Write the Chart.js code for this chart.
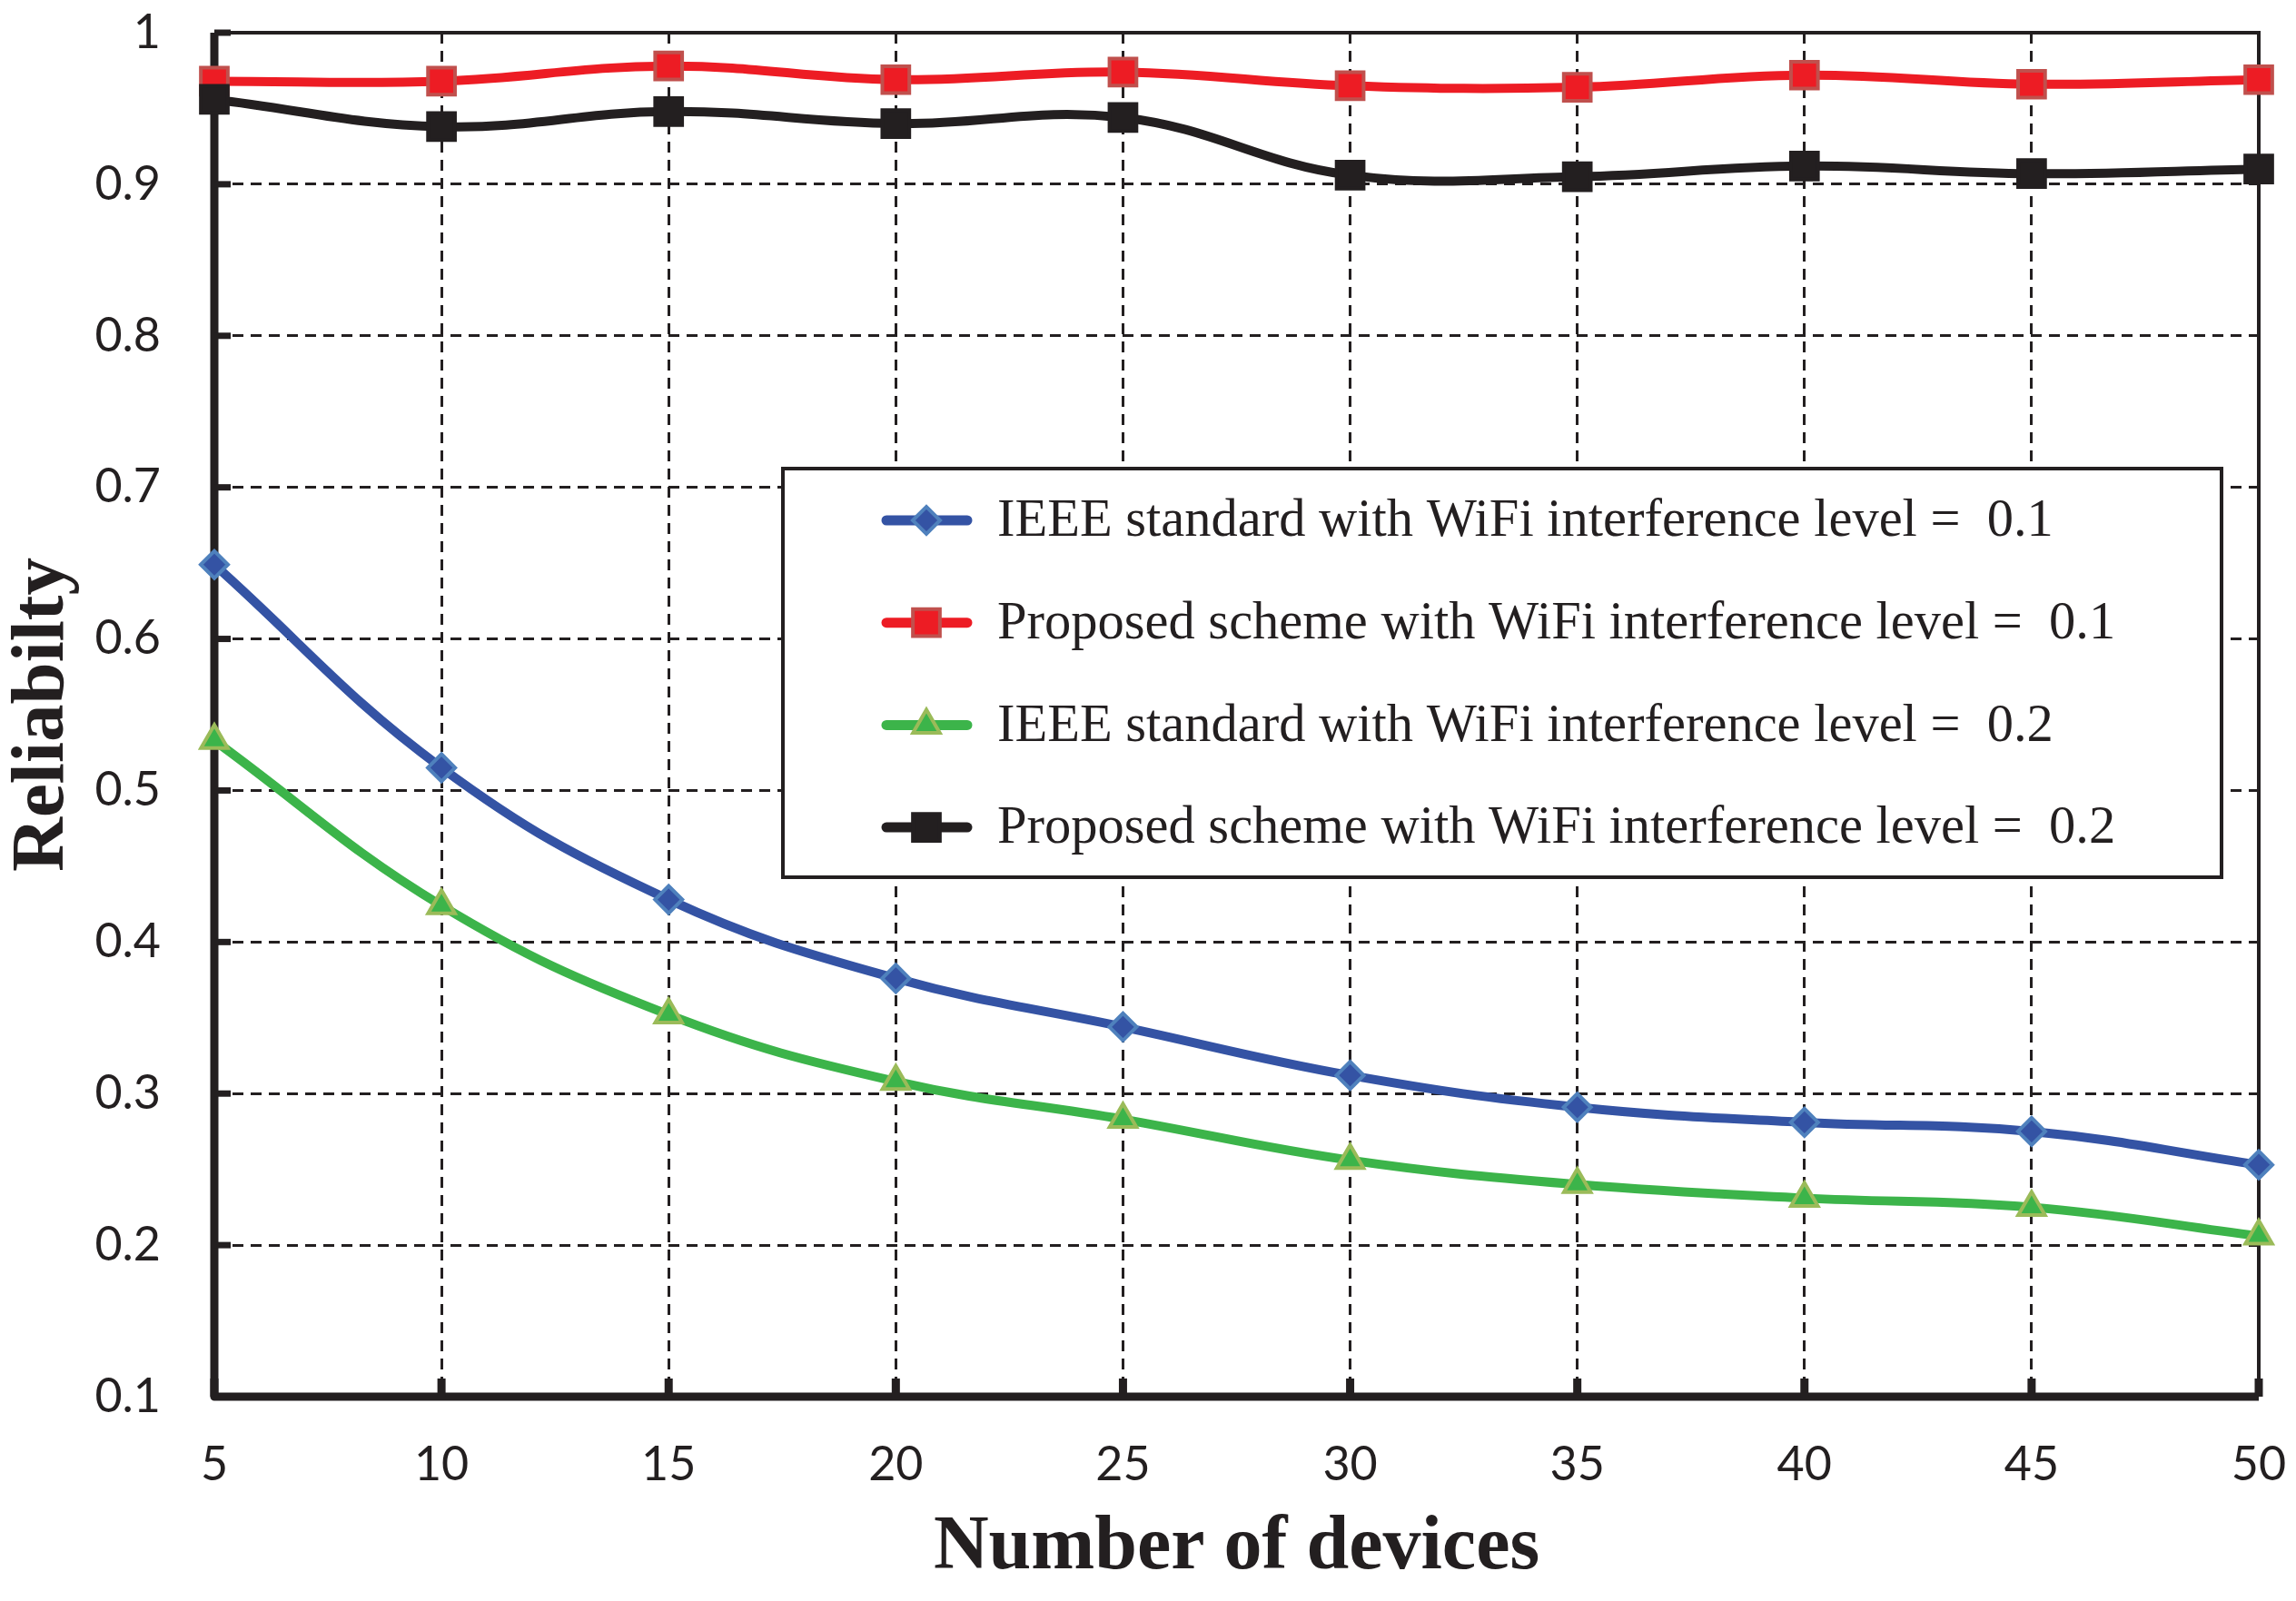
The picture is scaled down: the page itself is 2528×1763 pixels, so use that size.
<!DOCTYPE html>
<html>
<head>
<meta charset="utf-8">
<script src="https://cdn.jsdelivr.net/npm/chart.js@4.4.1/dist/chart.umd.min.js"></script>
<style>
  html, body { margin: 0; padding: 0; background: #fff; }
  #chartBox { width: 2528px; height: 1763px; position: relative; }
</style>
</head>
<body>
<div id="chartBox"><canvas id="myChart"></canvas></div>
<script>
// data
const devices = ["5", "10", "15", "20", "25", "30", "35", "40", "45", "50"];
const yTickLabels = ["0.1", "0.2", "0.3", "0.4", "0.5", "0.6", "0.7", "0.8", "0.9", "1"];

const ieeeLevel1 = [0.649, 0.515, 0.428, 0.376, 0.344, 0.312, 0.291, 0.281, 0.275, 0.253];
const proposedLevel1 = [0.968, 0.968, 0.978, 0.969, 0.974, 0.965, 0.964, 0.972, 0.966, 0.969];
const ieeeLevel2 = [0.533, 0.424, 0.352, 0.308, 0.283, 0.256, 0.240, 0.231, 0.225, 0.206];
const proposedLevel2 = [0.956, 0.938, 0.948, 0.940, 0.944, 0.906, 0.905, 0.912, 0.907, 0.910];

const seriesNames = [
  "IEEE standard with WiFi interference level =  0.1",
  "Proposed scheme with WiFi interference level =  0.1",
  "IEEE standard with WiFi interference level =  0.2",
  "Proposed scheme with WiFi interference level =  0.2",
];

const ink = "#231f20";

function series(label, values, line, fill, edge, style, radius, order) {
  return {
    label,
    data: values,
    borderColor: line,
    backgroundColor: line,
    borderWidth: 10,
    tension: 0.4,
    pointStyle: style,
    pointRadius: radius,
    pointHoverRadius: radius,
    pointBackgroundColor: fill,
    pointBorderColor: edge,
    pointBorderWidth: 4,
    clip: false,
    order,
  };
}

const data = {
  labels: devices,
  datasets: [
    series(seriesNames[0], ieeeLevel1, "#3453a4", "#3453a4", "#4f81bd", "rectRot", 15, 1),
    series(seriesNames[1], proposedLevel1, "#ed1c24", "#ed1c24", "#c0504d", "rect", 21, 3),
    series(seriesNames[2], ieeeLevel2, "#3cb44a", "#3cb44a", "#9bbb59", "triangle", 17, 2),
    series(seriesNames[3], proposedLevel2, ink, ink, ink, "rect", 21, 0),
  ],
};

// thick left/bottom axes, thin top/right frame, short inward ticks
const framePlugin = {
  id: "frame",
  beforeDatasetsDraw(chart) {
    const { ctx, chartArea, scales } = chart;
    const { left, right, top, bottom } = chartArea;
    ctx.save();
    ctx.strokeStyle = ink;
    ctx.setLineDash([]);

    ctx.lineWidth = 4;
    ctx.beginPath();
    ctx.moveTo(left, top);
    ctx.lineTo(right, top);
    ctx.lineTo(right, bottom);
    ctx.stroke();

    ctx.lineWidth = 9;
    ctx.lineJoin = "round";
    ctx.beginPath();
    ctx.moveTo(left, top);
    ctx.lineTo(left, bottom);
    ctx.lineTo(right, bottom);
    ctx.stroke();

    ctx.lineWidth = 7;
    scales.y.ticks.forEach((t, i) => {
      const py = scales.y.getPixelForTick(i);
      ctx.beginPath();
      ctx.moveTo(left, py);
      ctx.lineTo(left + 18, py);
      ctx.stroke();
    });
    ctx.lineWidth = 9;
    scales.x.ticks.forEach((t, i) => {
      const px = scales.x.getPixelForTick(i);
      ctx.beginPath();
      ctx.moveTo(px, bottom);
      ctx.lineTo(px, bottom - 20);
      ctx.stroke();
    });
    ctx.restore();
  },
};

function drawMarker(ctx, style, cx, cy, r, fill, edge, bw) {
  ctx.beginPath();
  if (style === "rectRot") {
    ctx.moveTo(cx - r, cy);
    ctx.lineTo(cx, cy - r);
    ctx.lineTo(cx + r, cy);
    ctx.lineTo(cx, cy + r);
  } else if (style === "triangle") {
    let rad = 0;
    ctx.moveTo(cx + Math.sin(rad) * r, cy - Math.cos(rad) * r);
    rad += (2 * Math.PI) / 3;
    ctx.lineTo(cx + Math.sin(rad) * r, cy - Math.cos(rad) * r);
    rad += (2 * Math.PI) / 3;
    ctx.lineTo(cx + Math.sin(rad) * r, cy - Math.cos(rad) * r);
  } else {
    const s = r * Math.SQRT1_2;
    ctx.rect(cx - s, cy - s, 2 * s, 2 * s);
  }
  ctx.closePath();
  ctx.fillStyle = fill;
  ctx.fill();
  ctx.lineWidth = bw;
  ctx.strokeStyle = edge;
  ctx.stroke();
}

// boxed legend inside the plot
const legendBox = {
  id: "legendBox",
  afterDraw(chart) {
    const ctx = chart.ctx;
    const box = { x: 862, y: 516, w: 1584, h: 450 };
    ctx.save();
    ctx.fillStyle = "#fff";
    ctx.fillRect(box.x, box.y, box.w, box.h);
    ctx.lineWidth = 4;
    ctx.strokeStyle = ink;
    ctx.strokeRect(box.x, box.y, box.w, box.h);

    ctx.font = "58.5px 'Liberation Serif', 'Times New Roman', serif";
    ctx.textBaseline = "middle";
    chart.data.datasets.forEach((ds, i) => {
      const rowY = 573 + i * 112.7;
      ctx.lineCap = "round";
      ctx.lineWidth = 11;
      ctx.strokeStyle = ds.borderColor;
      ctx.beginPath();
      ctx.moveTo(976, rowY);
      ctx.lineTo(1065, rowY);
      ctx.stroke();
      ctx.lineCap = "butt";
      drawMarker(ctx, ds.pointStyle, 1020, rowY, ds.pointRadius,
        ds.pointBackgroundColor, ds.pointBorderColor, ds.pointBorderWidth);
      ctx.fillStyle = ink;
      ctx.fillText(ds.label, 1098, rowY + 2);
    });
    ctx.restore();
  },
};

const config = {
  type: "line",
  data,
  options: {
    responsive: true,
    maintainAspectRatio: false,
    devicePixelRatio: 1,
    animation: false,
    events: [],
    layout: {
      padding: { left: 0, top: 36, right: 41, bottom: 0 },
    },
    plugins: {
      legend: { display: false },
      tooltip: { enabled: false },
    },
    scales: {
      x: {
        type: "category",
        offset: false,
        afterFit(scale) {
          // fixed band under the plot; labels may overhang the ends
          scale.height = 225;
          scale.paddingLeft = 0;
          scale.paddingRight = 0;
        },
        grid: {
          color: ink,
          lineWidth: 3,
          drawTicks: false,
          borderDash: [12, 8],
        },
        border: { display: false, dash: [12, 8] },
        ticks: {
          color: ink,
          padding: 44,
          maxRotation: 0,
          autoSkip: false,
          font: { family: "Lato, 'Open Sans', sans-serif", size: 52 },
        },
        title: {
          display: true,
          text: "Number of devices",
          color: ink,
          padding: { top: 0, bottom: 16 },
          font: { family: "'Liberation Serif', 'Times New Roman', serif", size: 84, weight: "bold", lineHeight: 1 },
        },
      },
      y: {
        min: 0.1,
        max: 1,
        afterFit(scale) {
          scale.width = 236;
          scale.paddingTop = 0;
          scale.paddingBottom = 0;
        },
        grid: {
          color: ink,
          lineWidth: 3,
          drawTicks: false,
          borderDash: [12, 8],
        },
        border: { display: false, dash: [12, 8] },
        ticks: {
          stepSize: 0.1,
          color: ink,
          padding: 59,
          font: { family: "Lato, 'Open Sans', sans-serif", size: 52 },
          callback: function (value, index) {
            return yTickLabels[index] !== undefined ? yTickLabels[index] : value;
          },
        },
        title: {
          display: true,
          text: "Reliabilty",
          color: ink,
          padding: { top: 6, bottom: 0 },
          font: { family: "'Liberation Serif', 'Times New Roman', serif", size: 83, weight: "bold", lineHeight: 1 },
        },
      },
    },
  },
  plugins: [framePlugin, legendBox],
};

const myChart = new Chart(document.getElementById("myChart"), config);
</script>
</body>
</html>
